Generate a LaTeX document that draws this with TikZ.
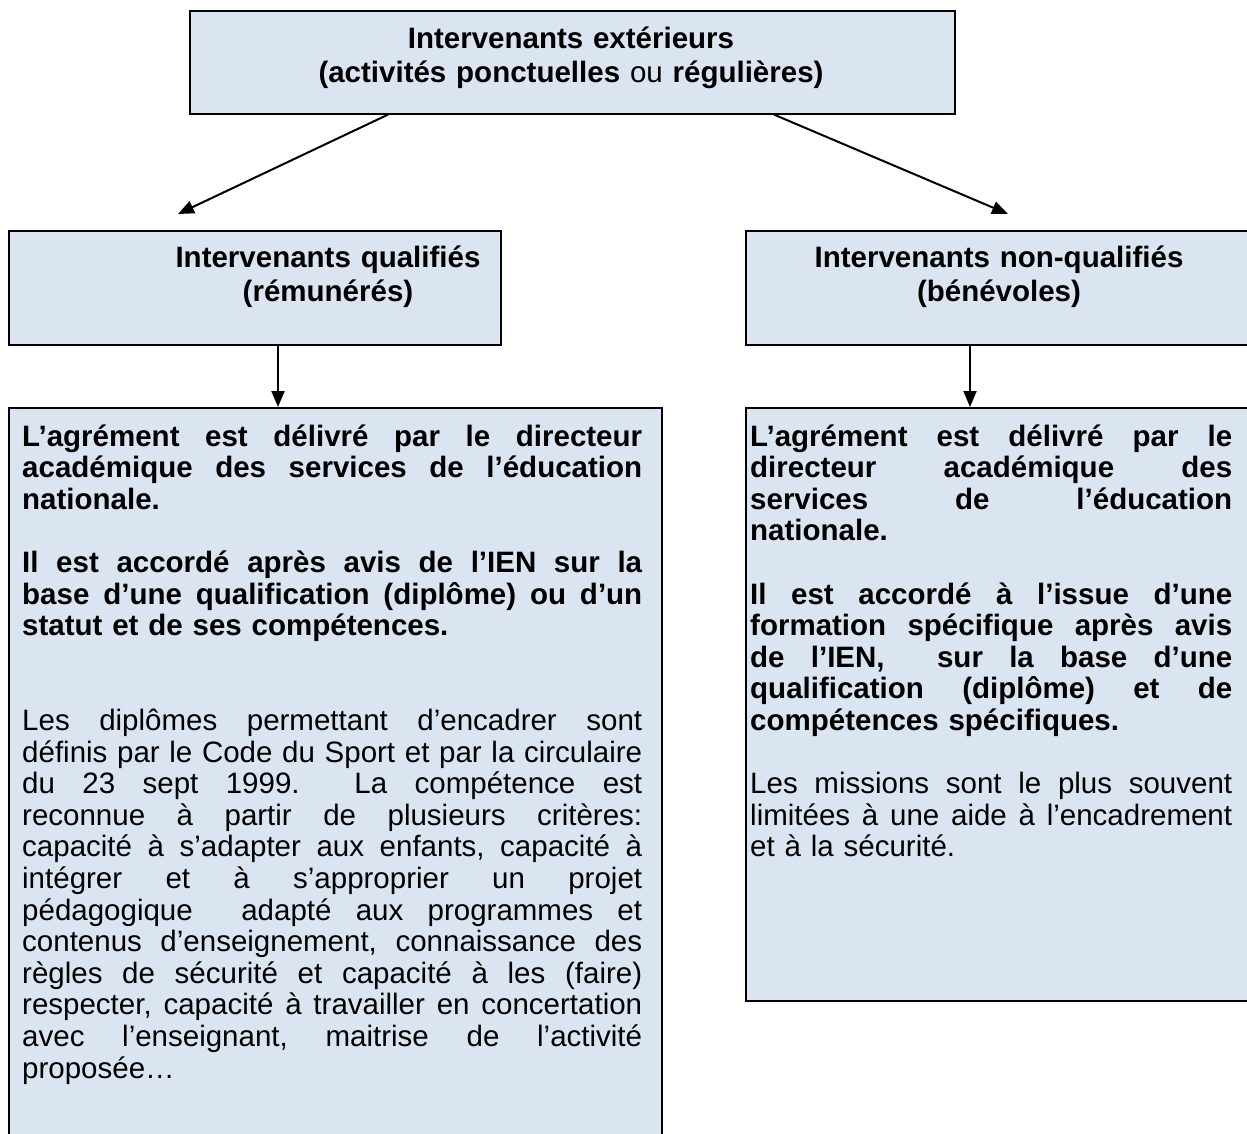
\documentclass[tikz,border=0pt]{standalone}
\usepackage{fontspec}
\setmainfont{Liberation Sans}
\usetikzlibrary{arrows.meta}
\definecolor{boxfill}{HTML}{DBE5F1}
\setlength\parindent{0pt}
\setlength\parskip{0pt}
\newcommand\jline[1]{\leavevmode\hbox to \hsize{\frenchspacing\spaceskip=0.278em plus 1fil\relax #1}\par}
\newcommand\lline[1]{#1\par}
\newcommand\eline{\mbox{}\par}
\begin{document}
\begin{tikzpicture}[x=1pt,y=-1pt,
  box/.style={draw=black, line width=1.6pt, fill=boxfill, inner sep=0pt, rectangle, anchor=north west},
  arr/.style={line width=2pt, -{Triangle[length=16pt,width=13pt]}},
  title/.style={anchor=base, inner sep=0pt, text width=#1, align=center, font=\fontsize{29.5pt}{34pt}\selectfont\bfseries},
  body/.style={anchor=base west, inner sep=0pt, text width=#1, font=\fontsize{29.5pt}{31.6pt}\selectfont\frenchspacing}]
\useasboundingbox (0,0) rectangle (1247,1133);
\fill[white] (0,0) rectangle (1247,1133);
\clip (0,0) rectangle (1247,1133);

% boxes
\node[box, minimum width=765pt, minimum height=103pt] (top) at (189,10) {};
\node[box, minimum width=492pt, minimum height=114pt] (q) at (8,230) {};
\node[box, minimum width=530pt, minimum height=114pt] (nq) at (745,230) {};
\node[box, minimum width=653pt, minimum height=780pt] (b1) at (8,407) {};
\node[box, minimum width=530pt, minimum height=593pt] (b2) at (745,407) {};

% titles
\node[title=765pt] (toptxt) at (571,48) {Intervenants extérieurs\\(activités ponctuelles \mdseries ou \bfseries régulières)};
\node[title=480pt] (qtxt) at (328,267) {Intervenants qualifiés\\(rémunérés)};
\node[title=480pt] (nqtxt) at (999,267) {Intervenants non-qualifiés\\(bénévoles)};

% body texts
\node[body=620pt] (b1txt) at (22,446) {%
{\bfseries
\jline{L’agrément est délivré par le directeur}
\jline{académique des services de l’éducation}
\lline{nationale.}
\eline
\jline{Il est accordé après avis de l’IEN sur la}
\jline{base d’une qualification (diplôme) ou d’un}
\lline{statut et de ses compétences.}
\eline
\eline}
\jline{Les diplômes permettant d’encadrer sont}
\jline{définis par le Code du Sport et par la circulaire}
\jline{du 23 sept 1999.\ \ La compétence est}
\jline{reconnue à partir de plusieurs critères:}
\jline{capacité à s’adapter aux enfants, capacité à}
\jline{intégrer et à s’approprier un projet}
\jline{pédagogique\ \ adapté aux programmes et}
\jline{contenus d’enseignement, connaissance des}
\jline{règles de sécurité et capacité à les (faire)}
\jline{respecter, capacité à travailler en concertation}
\jline{avec l’enseignant, maitrise de l’activité}
\lline{proposée…}};

\node[body=482pt] (b2txt) at (750,446) {%
{\bfseries
\jline{L’agrément est délivré par le}
\jline{directeur académique des}
\jline{services de l’éducation}
\lline{nationale.}
\eline
\jline{Il est accordé à l’issue d’une}
\jline{formation spécifique après avis}
\jline{de l’IEN,\ \ sur la base d’une}
\jline{qualification (diplôme) et de}
\lline{compétences spécifiques.}
\eline}
\jline{Les missions sont le plus souvent}
\jline{limitées à une aide à l’encadrement}
\lline{et à la sécurité.}};

% connectors
\draw[arr] ([xshift=199pt]top.south west) -- ([xshift=170pt,yshift=16pt]q.north west);
\draw[arr] ([xshift=585pt]top.south west) -- ([xshift=263pt,yshift=16pt]nq.north west);
\draw[arr] ([xshift=270pt]q.south west) -- ([xshift=270pt]b1.north west);
\draw[arr] ([xshift=225pt]nq.south west) -- ([xshift=225pt]b2.north west);
\end{tikzpicture}
\end{document}
